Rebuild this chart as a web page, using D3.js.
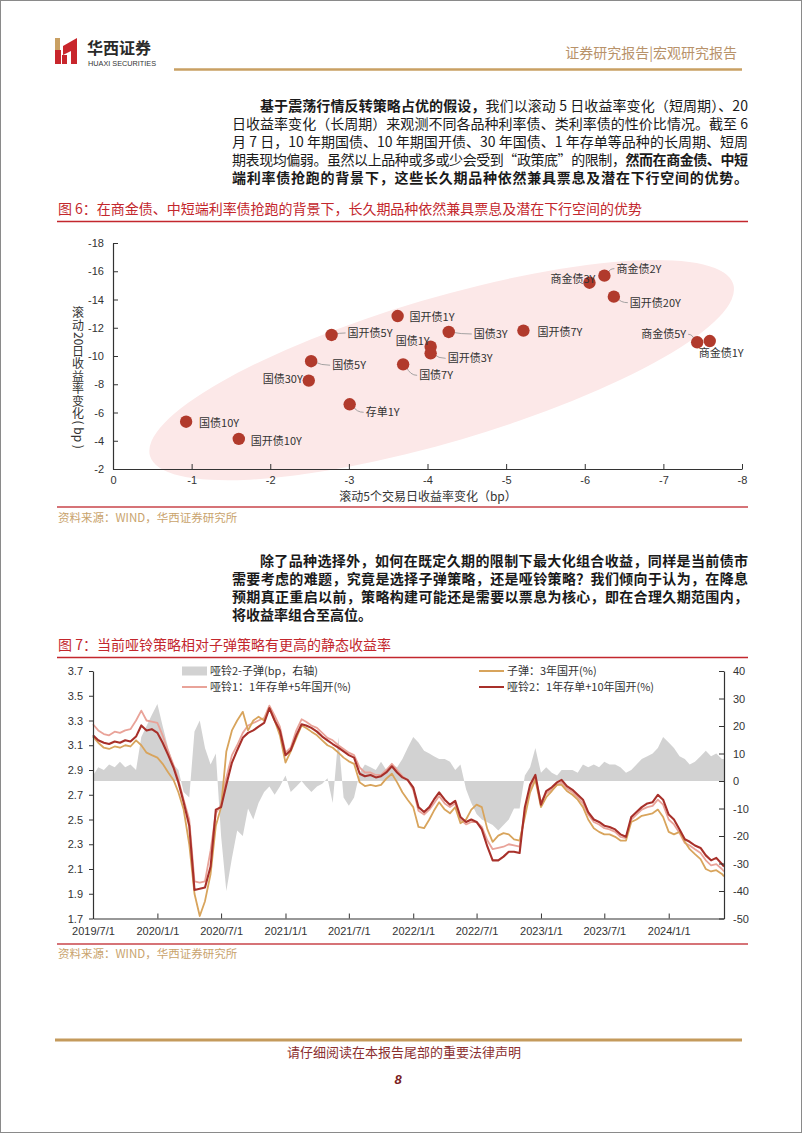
<!DOCTYPE html>
<html><head><meta charset="utf-8">
<script src="https://cdn.jsdelivr.net/npm/d3@7"></script>
<style>
html,body{margin:0;padding:0;background:#fff;}
svg{display:block;}
text{font-family:"Liberation Sans","Noto Sans CJK SC",sans-serif;}
.cjk{font-family:"Noto Sans CJK SC","Liberation Sans",sans-serif;}
</style></head><body>
<svg id="page" width="802" height="1133"></svg>
<script>
// ---------------- DATA ----------------
// Figure 6 scatter
const bondNames = ["国债10Y","国开债10Y","国债30Y","国债5Y","国开债5Y","存单1Y","国开债1Y","国债7Y","国债1Y","国开债3Y","国债3Y","国开债7Y","商金债3Y","商金债2Y","国开债20Y","商金债5Y","商金债1Y"];
const change5d  = [-0.93,-1.60,-2.49,-2.52,-2.78,-3.01,-3.62,-3.69,-4.04,-4.04,-4.27,-5.22,-6.06,-6.25,-6.37,-7.43,-7.59];
const change20d = [-5.35,-4.13,-8.26,-9.63,-11.49,-6.58,-12.83,-9.41,-10.66,-10.19,-11.70,-11.80,-15.19,-15.69,-14.20,-10.97,-11.06];
const scatterXTicks = [0,-1,-2,-3,-4,-5,-6,-7,-8];
const scatterYTicks = [-18,-16,-14,-12,-10,-8,-6,-4,-2];

// Figure 7 time series (half-monthly samples, 2019-07-01 .. 2024-06-07)
const seriesStart = "2019-07-01", seriesEnd = "2024-06-07";
const dumbbell2 = [3.18,3.14,3.12,3.11,3.13,3.12,3.14,3.13,3.17,3.26,
 3.22,3.23,3.20,3.12,3.02,2.92,2.80,2.64,2.45,1.93,
 1.94,1.95,2.12,2.58,2.60,2.78,2.96,3.06,3.16,3.20,
 3.22,3.25,3.28,3.40,3.30,3.22,3.02,3.06,3.18,3.27,
 3.26,3.24,3.21,3.17,3.14,3.11,3.08,3.05,3.02,3.00,
 2.87,2.85,2.86,2.84,2.85,2.88,2.93,2.88,2.84,2.82,
 2.76,2.60,2.56,2.60,2.66,2.72,2.66,2.62,2.65,2.52,
 2.48,2.50,2.48,2.42,2.28,2.17,2.17,2.20,2.24,2.24,
 2.23,2.60,2.78,2.86,2.62,2.73,2.76,2.80,2.82,2.77,
 2.74,2.70,2.66,2.56,2.50,2.48,2.45,2.44,2.42,2.38,
 2.36,2.52,2.56,2.60,2.63,2.64,2.70,2.66,2.54,2.50,
 2.42,2.34,2.32,2.29,2.27,2.21,2.17,2.19,2.14,2.12];
const dumbbell1 = [3.27,3.22,3.19,3.18,3.21,3.20,3.22,3.23,3.30,3.38,
 3.30,3.29,3.28,3.18,3.05,2.94,2.82,2.66,2.50,2.00,
 1.99,2.00,2.25,2.55,2.62,2.84,3.02,3.10,3.20,3.26,
 3.28,3.30,3.32,3.42,3.34,3.25,3.04,3.08,3.22,3.31,
 3.29,3.26,3.24,3.20,3.16,3.14,3.10,3.07,3.04,3.02,
 2.92,2.88,2.88,2.86,2.86,2.90,2.95,2.90,2.85,2.82,
 2.74,2.57,2.54,2.58,2.63,2.69,2.63,2.60,2.63,2.50,
 2.46,2.48,2.48,2.44,2.33,2.26,2.27,2.28,2.30,2.29,
 2.28,2.58,2.75,2.84,2.64,2.71,2.74,2.78,2.80,2.75,
 2.72,2.68,2.63,2.54,2.48,2.46,2.43,2.42,2.40,2.36,
 2.35,2.50,2.54,2.58,2.60,2.61,2.66,2.62,2.50,2.46,
 2.39,2.31,2.29,2.26,2.23,2.17,2.13,2.14,2.10,2.08];
const bullet = [3.17,3.12,3.08,3.07,3.09,3.08,3.10,3.09,3.14,3.10,
 3.04,3.02,3.00,2.95,2.88,2.82,2.72,2.58,2.30,1.90,
 1.72,1.84,2.06,2.45,2.60,3.05,3.22,3.30,3.37,3.22,
 3.30,3.33,3.30,3.40,3.30,3.18,2.96,3.05,3.16,3.26,
 3.24,3.21,3.18,3.14,3.10,3.08,3.04,3.00,2.97,2.95,
 2.80,2.77,2.78,2.77,2.78,2.83,2.87,2.80,2.72,2.66,
 2.60,2.44,2.43,2.50,2.57,2.64,2.58,2.55,2.60,2.47,
 2.50,2.58,2.62,2.60,2.42,2.32,2.37,2.39,2.38,2.34,
 2.33,2.52,2.72,2.82,2.60,2.68,2.73,2.78,2.78,2.73,
 2.70,2.66,2.60,2.50,2.43,2.40,2.38,2.38,2.36,2.33,
 2.33,2.48,2.50,2.53,2.54,2.55,2.58,2.52,2.40,2.38,
 2.40,2.32,2.26,2.22,2.18,2.10,2.08,2.09,2.06,2.04];
const spreadBp = [2,5,4,6,5,7,5,6,4,16,
 20,24,28,20,12,6,4,-4,-6,18,
 22,12,6,10,-20,-40,-28,-18,-20,-10,
 -14,-8,-4,-2,-5,-2,2,-4,-2,0,
 -2,-4,-2,-1,1,-8,16,-6,-9,-6,
 3,6,5,4,7,4,6,5,8,12,
 16,14,11,10,9,8,8,7,4,6,
 -3,-8,-12,-14,-15,-16,-18,-16,-14,-10,
 -10,2,5,12,3,5,3,2,4,4,
 4,3,6,5,6,5,7,6,6,5,
 3,4,6,8,9,10,12,16,14,12,
 9,8,6,7,9,11,9,10,8,8];
const leftTicks = [1.7,1.9,2.1,2.3,2.5,2.7,2.9,3.1,3.3,3.5,3.7];
const rightTicks = [-50,-40,-30,-20,-10,0,10,20,30,40];
const dateTickLabels = ["2019/7/1","2020/1/1","2020/7/1","2021/1/1","2021/7/1","2022/1/1","2022/7/1","2023/1/1","2023/7/1","2024/1/1"];

// --------------- helpers ---------------
const svg = d3.select("#page");
const RED = "#c3272d", GOLD = "#c9a063", SRC = "#c9a36c";
const parseD = d3.timeParse("%Y-%m-%d");
const parseT = d3.timeParse("%Y/%m/%d");

// half-month sample dates
const sampleDates = [];
{
  const s = parseD(seriesStart), e = parseD(seriesEnd);
  for (let y = 2019; y <= 2024; y++) for (let m = 0; m < 12; m++) for (const d of [1, 16]) {
    const dt = new Date(y, m, d);
    if (dt >= s && dt < e) sampleDates.push(dt);
  }
  sampleDates.push(e);
}

// page border
svg.append("rect").attr("x",0.5).attr("y",0.5).attr("width",801).attr("height",1132).attr("fill","#fff").attr("stroke","#8a8a8a");

// ---------------- HEADER ----------------
const logo = svg.append("g");
logo.append("rect").attr("x",55).attr("y",38).attr("width",5).attr("height",13).attr("fill","#c9a063");
logo.append("rect").attr("x",55).attr("y",50).attr("width",6).attr("height",14).attr("fill","#c8262c");
logo.append("polygon").attr("points","63,46 77,38 77,64 71,64 71,51 63,55").attr("fill","#c8262c");
logo.append("rect").attr("x",62).attr("y",55).attr("width",5).attr("height",9).attr("fill","#c8262c");
svg.append("text").attr("class","cjk").attr("x",87).attr("y",53.5).attr("font-size",16).attr("font-weight",700).attr("fill","#2a2a2a").text("华西证券");
svg.append("text").attr("x",88).attr("y",66).attr("font-size",7.2).attr("fill","#333").attr("textLength",68).attr("lengthAdjust","spacingAndGlyphs").text("HUAXI SECURITIES");
svg.append("text").attr("class","cjk").attr("x",737).attr("y",58).attr("text-anchor","end").attr("font-size",14).attr("fill","#b8926a").text("证券研究报告|宏观研究报告");
svg.append("line").attr("x1",174).attr("x2",742).attr("y1",69.5).attr("y2",69.5).attr("stroke",GOLD).attr("stroke-width",2.5);

// ---------------- PARAGRAPHS ----------------
function paragraph(lines, x0, x1, yc0, lh, indent, justifyLast) {
  lines.forEach((segs, i) => {
    const xs = i === 0 ? x0 + indent : x0;
    const t = svg.append("text").attr("class","cjk").attr("x", xs).attr("y", yc0 + i*lh + 5)
      .attr("font-size",14).attr("fill","#1a1a1a");
    segs.forEach(s => t.append("tspan").attr("font-weight", s.b ? 700 : 400).text(s.t));
    if (i < lines.length - 1 || justifyLast) t.attr("textLength", x1 - xs).attr("lengthAdjust","spacing");
  });
}
paragraph([
  [{t:"基于震荡行情反转策略占优的假设，",b:1},{t:"我们以滚动 5 日收益率变化（短周期）、20"}],
  [{t:"日收益率变化（长周期）来观测不同各品种利率债、类利率债的性价比情况。截至 6"}],
  [{t:"月 7 日，10 年期国债、10 年期国开债、30 年国债、1 年存单等品种的长周期、短周"}],
  [{t:"期表现均偏弱。虽然以上品种或多或少会受到“政策底”的限制，"},{t:"然而在商金债、中短",b:1}],
  [{t:"端利率债抢跑的背景下，这些长久期品种依然兼具票息及潜在下行空间的优势。",b:1}]
], 232, 748, 105.5, 18, 28, true);

paragraph([
  [{t:"除了品种选择外，如何在既定久期的限制下最大化组合收益，同样是当前债市",b:1}],
  [{t:"需要考虑的难题，究竟是选择子弹策略，还是哑铃策略？我们倾向于认为，在降息",b:1}],
  [{t:"预期真正重启以前，策略构建可能还是需要以票息为核心，即在合理久期范围内，",b:1}],
  [{t:"将收益率组合至高位。",b:1}]
], 232, 748, 561, 18, 28, false);

// ---------------- TITLES / SOURCES ----------------
function figTitle(txt, yc, lineY, width) {
  svg.append("text").attr("class","cjk").attr("x",58).attr("y",yc+5).attr("font-size",14).attr("fill",RED)
    .attr("textLength",width).attr("lengthAdjust","spacing").text(txt);
  svg.append("line").attr("x1",57).attr("x2",748).attr("y1",lineY).attr("y2",lineY).attr("stroke",RED).attr("stroke-width",1.5);
}
function source(yc, lineY) {
  svg.append("line").attr("x1",57).attr("x2",748).attr("y1",lineY).attr("y2",lineY).attr("stroke","#c9444a").attr("stroke-width",1.3);
  svg.append("text").attr("class","cjk").attr("x",58).attr("y",yc+4.5).attr("font-size",11.5).attr("fill",SRC).text("资料来源：WIND，华西证券研究所");
}
figTitle("图 6：在商金债、中短端利率债抢跑的背景下，长久期品种依然兼具票息及潜在下行空间的优势", 208.5, 221.5, 584);
source(517, 507);
figTitle("图 7：当前哑铃策略相对子弹策略有更高的静态收益率", 645, 657.5, 333);
source(953, 944);

// ---------------- FIGURE 6: SCATTER ----------------
const sx = d3.scaleLinear().domain([0,-8]).range([113,742]);
const sy = d3.scaleLinear().domain([-2,-18]).range([469,243]);
const sc = svg.append("g");
// highlight ellipse
sc.append("ellipse").attr("cx",sx(-4.18)).attr("cy",sy(-9.0)).attr("rx",304).attr("ry",72)
  .attr("transform",`rotate(-16.4 ${sx(-4.18)} ${sy(-9.0)})`).attr("fill","#fce8e8");

const axX = sc.append("g").attr("transform",`translate(0,${sy(-2)})`)
  .call(d3.axisBottom(sx).tickValues(scatterXTicks).tickFormat(d=>String(d)).tickSize(-5).tickSizeOuter(0).tickPadding(7));
const axY = sc.append("g").attr("transform",`translate(${sx(0)},0)`)
  .call(d3.axisLeft(sy).tickValues(scatterYTicks).tickFormat(d=>String(d)).tickSize(-5).tickSizeOuter(0).tickPadding(9));
[axX, axY].forEach(a => {
  a.select(".domain").attr("stroke","#333").attr("stroke-width",1.2);
  a.selectAll(".tick line").attr("stroke","#333");
  a.selectAll(".tick text").attr("font-size",11).attr("fill","#333").attr("font-family","Liberation Sans, sans-serif");
});
sc.append("text").attr("class","cjk").attr("x",428).attr("y",501).attr("text-anchor","middle").attr("font-size",12).attr("fill","#333")
  .text("滚动5个交易日收益率变化（bp）");

// vertical y-axis title as one text element: CJK upright, Latin glyphs rotated 90°
{
  const fs = 12, cx = 78;
  const glyphs = [["滚",0],["动",0],["2",1],["0",1],["日",0],["收",0],["益",0],["率",0],["变",0],["化",0],["(",1],[" ",1],["b",1],["p",1],[" ",1],[")",1]];
  const probe = sc.append("text").attr("class","cjk").attr("font-size",fs).style("white-space","pre");
  const adv = glyphs.map(([g, r]) => { if (!r) return fs + 0.5; probe.text(g === " " ? "\u00a0" : g); return probe.node().getComputedTextLength(); });
  probe.remove();
  const total = d3.sum(adv);
  let y = 378 - total/2;
  const xs = [], ys = [], rs = [];
  glyphs.forEach(([g, r], i) => {
    if (r) { xs.push(cx - 0.36*fs); ys.push(y); rs.push(90); }
    else { xs.push(cx - fs/2); ys.push(y + fs*0.86); rs.push(0); }
    y += adv[i];
  });
  sc.append("text").attr("class","cjk").attr("font-size",fs).attr("fill","#333").style("white-space","pre")
    .attr("x", xs.join(" ")).attr("y", ys.join(" ")).attr("rotate", rs.join(" "))
    .text(glyphs.map(g => g[0] === " " ? "\u00a0" : g[0]).join(""));
}

// label layout (offsets in px from the point)
const labelLayout = {
  "国债10Y":{dx:13,dy:1,a:"start"}, "国开债10Y":{dx:12,dy:2,a:"start"}, "国债30Y":{dx:-6,dy:-2,a:"end"},
  "国债5Y":{dx:21,dy:4,a:"start",l:1}, "国开债5Y":{dx:16,dy:-2,a:"start",l:1}, "存单1Y":{dx:16,dy:8,a:"start",l:1},
  "国开债1Y":{dx:12,dy:1,a:"start"}, "国债7Y":{dx:16,dy:11,a:"start",l:1}, "国债1Y":{dx:-1,dy:-6,a:"end"},
  "国开债3Y":{dx:17,dy:5,a:"start",l:1}, "国债3Y":{dx:25,dy:2,a:"start",l:1}, "国开债7Y":{dx:14,dy:1,a:"start"},
  "商金债3Y":{dx:6,dy:-4,a:"end"}, "商金债2Y":{dx:12,dy:-7,a:"start",l:1}, "国开债20Y":{dx:16,dy:6,a:"start",l:1},
  "商金债5Y":{dx:-11,dy:-8,a:"end",l:1}, "商金债1Y":{dx:-11,dy:12,a:"start"}
};
const pts = bondNames.map((n,i)=>({n, x:change5d[i], y:change20d[i]}));
pts.forEach(p => {
  const L = labelLayout[p.n]; if (!L.l) return;
  const px = sx(p.x), py = sy(p.y);
  const tx = px + L.dx + (L.a==="start" ? -2 : 2), ty = py + L.dy;
  const ang = Math.atan2(ty-py, tx-px);
  sc.append("path").attr("d",`M${px+4*Math.cos(ang)},${py+4*Math.sin(ang)} Q${(px+tx)/2},${ty} ${tx},${ty}`)
    .attr("fill","none").attr("stroke","#9a9a9a").attr("stroke-width",0.9);
});
sc.selectAll("circle.pt").data(pts).join("circle").attr("class","pt")
  .attr("cx",d=>sx(d.x)).attr("cy",d=>sy(d.y)).attr("r",6.2).attr("fill","#b13a2c");
sc.selectAll("text.lbl").data(pts).join("text").attr("class","lbl cjk")
  .attr("x",d=>sx(d.x)+labelLayout[d.n].dx).attr("y",d=>sy(d.y)+labelLayout[d.n].dy+4)
  .attr("text-anchor",d=>labelLayout[d.n].a).attr("font-size",11).attr("fill","#333").text(d=>d.n);

// ---------------- FIGURE 7: LINES ----------------
const xT = d3.scaleTime().domain([parseD(seriesStart), parseD(seriesEnd)]).range([93,724]);
const yL = d3.scaleLinear().domain([1.7,3.7]).range([918.5,671]);
const yR = d3.scaleLinear().domain([-50,40]).range([918.5,671]);
const lc = svg.append("g");
const rows = sampleDates.map((d,i)=>({d, db2:dumbbell2[i], db1:dumbbell1[i], b:bullet[i], s:spreadBp[i]}));

lc.append("path").datum(rows).attr("fill","#d2d2d2")
  .attr("d", d3.area().x(d=>xT(d.d)).y0(yR(0)).y1(d=>yR(d.s)));
const mk = key => d3.line().x(d=>xT(d.d)).y(d=>yL(d[key]));
lc.append("path").datum(rows).attr("fill","none").attr("stroke","#e9a399").attr("stroke-width",1.8).attr("stroke-linejoin","round").attr("d",mk("db1"));
lc.append("path").datum(rows).attr("fill","none").attr("stroke","#d8a45c").attr("stroke-width",1.8).attr("stroke-linejoin","round").attr("d",mk("b"));
lc.append("path").datum(rows).attr("fill","none").attr("stroke","#a8302a").attr("stroke-width",2.1).attr("stroke-linejoin","round").attr("d",mk("db2"));

const tickDates = dateTickLabels.map(parseT);
const aB = lc.append("g").attr("transform",`translate(0,${yL(1.7)})`)
  .call(d3.axisBottom(xT).tickValues(tickDates).tickFormat((d,i)=>dateTickLabels[i]).tickSize(-5).tickSizeOuter(0).tickPadding(9));
const aL = lc.append("g").attr("transform",`translate(${xT(parseD(seriesStart))},0)`)
  .call(d3.axisLeft(yL).tickValues(leftTicks).tickFormat(d3.format(".1f")).tickSize(4).tickSizeOuter(0).tickPadding(6));
const aR = lc.append("g").attr("transform",`translate(${xT(parseD(seriesEnd))},0)`)
  .call(d3.axisRight(yR).tickValues(rightTicks).tickFormat(d=>String(d)).tickSize(-5).tickSizeOuter(0).tickPadding(9));
[aB,aL,aR].forEach(a => {
  a.select(".domain").attr("stroke","#333").attr("stroke-width",1.2);
  a.selectAll(".tick line").attr("stroke","#333");
  a.selectAll(".tick text").attr("font-size",11).attr("fill","#333").attr("font-family","Liberation Sans, sans-serif");
});

// legend
const lg = lc.append("g");
const legendItems = [
  {t:"哑铃2-子弹(bp，右轴)", type:"area", c:"#d2d2d2", x:182, y:671},
  {t:"哑铃1：1年存单+5年国开(%)", type:"line", c:"#e9a399", x:182, y:687},
  {t:"子弹：3年国开(%)", type:"line", c:"#d8a45c", x:479, y:671},
  {t:"哑铃2：1年存单+10年国开(%)", type:"line", c:"#a8302a", x:479, y:687}
];
legendItems.forEach(it => {
  if (it.type === "area") lg.append("rect").attr("x",it.x).attr("y",it.y-4.5).attr("width",25).attr("height",9).attr("fill",it.c);
  else lg.append("line").attr("x1",it.x).attr("x2",it.x+25).attr("y1",it.y).attr("y2",it.y).attr("stroke",it.c).attr("stroke-width",2);
  lg.append("text").attr("class","cjk").attr("x",it.x+28).attr("y",it.y+4).attr("font-size",11).attr("fill","#333").text(it.t);
});

// ---------------- FOOTER ----------------
svg.append("line").attr("x1",55).attr("x2",742).attr("y1",1040).attr("y2",1040).attr("stroke","#c49a5c").attr("stroke-width",3);
svg.append("text").attr("class","cjk").attr("x",404).attr("y",1057).attr("text-anchor","middle").attr("font-size",13).attr("fill","#8c2f2f").text("请仔细阅读在本报告尾部的重要法律声明");
svg.append("text").attr("x",398).attr("y",1084).attr("text-anchor","middle").attr("font-size",13).attr("font-weight",700).attr("font-style","italic").attr("fill","#7a2020").text("8");
</script>
</body></html>
